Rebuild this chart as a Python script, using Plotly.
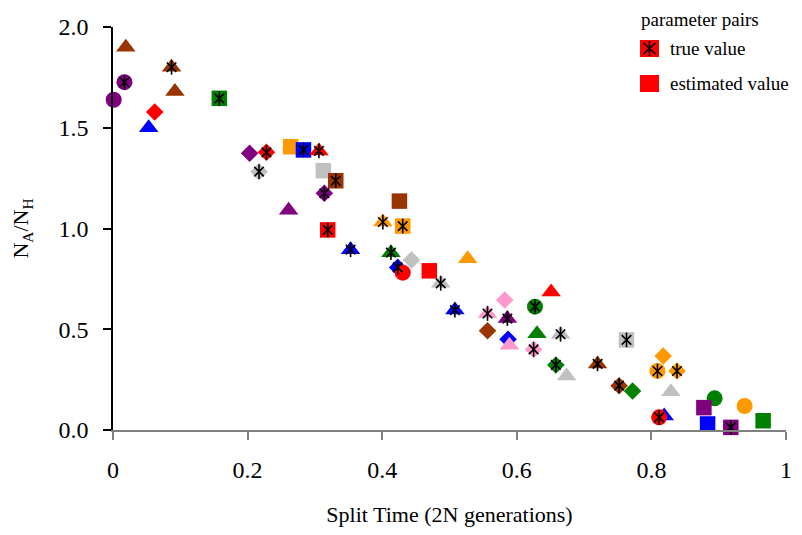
import plotly.graph_objects as go

# ---- data ----
palette = {
    "purple": "#800080", "brown": "#993300", "red": "#FF0000", "blue": "#0000FF",
    "green": "#008000", "orange": "#FF9900", "grey": "#C0C0C0", "pink": "#FF99CC",
}
shapes_map = {"circle": "circle", "triangle": "triangle-up", "diamond": "diamond", "square": "square"}

# estimated values
est_time = [0.019, 0.092, 0.001, 0.062, 0.053, 0.203, 0.264, 0.3125, 0.261, 0.4256,
            0.4435, 0.47, 0.527, 0.582, 0.5565, 0.587, 0.589, 0.651, 0.63,
            0.674, 0.772, 0.8175, 0.829, 0.819, 0.894, 0.878, 0.8835, 0.9385, 0.966]
est_ratio = [1.90, 1.68, 1.639, 1.578, 1.50, 1.373, 1.406, 1.287, 1.09, 1.136,
             0.844, 0.79, 0.85, 0.645, 0.493, 0.45, 0.42, 0.685, 0.478,
             0.268, 0.194, 0.367, 0.19, 0.07, 0.157, 0.111, 0.03, 0.119, 0.046]
est_colour = ["brown", "brown", "purple", "red", "blue", "purple", "orange", "grey", "purple", "brown",
              "grey", "red", "orange", "pink", "brown", "blue", "pink", "red", "green",
              "grey", "green", "orange", "grey", "blue", "green", "purple", "blue", "orange", "green"]
est_shape = ["triangle", "triangle", "circle", "diamond", "triangle", "diamond", "square", "square", "triangle", "square",
             "diamond", "square", "triangle", "diamond", "diamond", "diamond", "triangle", "triangle", "triangle",
             "triangle", "diamond", "diamond", "triangle", "triangle", "circle", "square", "square", "circle", "square"]

# true values
true_time = [0.087, 0.017, 0.158, 0.228, 0.283, 0.306, 0.217, 0.331, 0.314, 0.319,
             0.353, 0.401, 0.4305, 0.413, 0.423, 0.487, 0.508, 0.5565, 0.586, 0.625,
             0.627, 0.665, 0.658, 0.720, 0.763, 0.752, 0.809, 0.838, 0.8115, 0.918]
true_ratio = [1.80, 1.726, 1.646, 1.378, 1.39, 1.385, 1.282, 1.237, 1.175, 0.993,
              0.895, 1.032, 1.012, 0.88, 0.807, 0.728, 0.595, 0.578, 0.553, 0.40,
              0.612, 0.475, 0.323, 0.328, 0.447, 0.22, 0.293, 0.293, 0.063, 0.013]
true_colour = ["brown", "purple", "green", "red", "blue", "red", "grey", "brown", "purple", "red",
               "blue", "orange", "orange", "green", "blue", "grey", "blue", "pink", "purple", "pink",
               "green", "grey", "green", "brown", "grey", "brown", "orange", "orange", "red", "purple"]
true_shape = ["triangle", "circle", "square", "diamond", "square", "triangle", "diamond", "square", "diamond", "square",
              "triangle", "triangle", "square", "triangle", "diamond", "triangle", "triangle", "triangle", "triangle", "diamond",
              "circle", "triangle", "diamond", "triangle", "square", "diamond", "circle", "diamond", "circle", "square"]

# one estimated point drawn on top of the true markers
late_time = [0.4305]
late_ratio = [0.781]
late_colour = ["red"]
late_shape = ["circle"]

size_map = {"circle": 16, "triangle": 17, "diamond": 13.5, "square": 15.5}

FONT = "Liberation Serif, Times New Roman, serif"

fig = go.Figure()


def fill_trace(xs, ys, cols, shps):
    return go.Scatter(
        x=xs, y=ys, mode="markers", cliponaxis=False, showlegend=False, hoverinfo="skip",
        marker=dict(color=[palette[c] for c in cols],
                    symbol=[shapes_map[s] for s in shps],
                    size=[size_map[s] for s in shps],
                    opacity=1,
                    line=dict(width=0)),
    )


fig.add_trace(fill_trace(est_time, est_ratio, est_colour, est_shape))
fig.add_trace(fill_trace(true_time, true_ratio, true_colour, true_shape))
fig.add_trace(fill_trace(late_time, late_ratio, late_colour, late_shape))

# asterisk overlay on true values (vertical stroke + X)
for sym, sz in (("x-thin-open", 9.5), ("line-ns-open", 10.5)):
    fig.add_trace(go.Scatter(
        x=true_time, y=true_ratio, mode="markers", cliponaxis=False, showlegend=False,
        hoverinfo="skip",
        marker=dict(symbol=sym, size=sz, color="black", opacity=1,
                    line=dict(color="black", width=1.6)),
    ))

# ---- geometry (page pixels; page has an 8px body margin) ----
OFF = 8
L, T, W, H = 113, 27, 673, 403
FIG_W, FIG_H = 794, 519


def px(xp):
    return (xp - L) / W


def py(yp):
    return (T + H - yp) / H


shapes = [
    dict(type="rect", xref="paper", yref="paper", x0=px(640), x1=px(659), y0=py(57), y1=py(40),
         fillcolor="#FF0000", line=dict(width=0)),
    dict(type="rect", xref="paper", yref="paper", x0=px(640), x1=px(659), y0=py(92), y1=py(75),
         fillcolor="#FF0000", line=dict(width=0)),
    dict(type="line", xref="paper", yref="paper", x0=px(649.5), x1=px(649.5), y0=py(41), y1=py(56),
         line=dict(color="black", width=1.6)),
    dict(type="line", xref="paper", yref="paper", x0=px(643.5), x1=px(655.5), y0=py(43), y1=py(54),
         line=dict(color="black", width=1.6)),
    dict(type="line", xref="paper", yref="paper", x0=px(643.5), x1=px(655.5), y0=py(54), y1=py(43),
         line=dict(color="black", width=1.6)),
]

LEG_FONT = dict(size=19, family=FONT, color="black")
annotations = [
    dict(text="parameter pairs", x=px(639), y=py(19.5), xref="paper", yref="paper",
         xanchor="left", yanchor="middle", showarrow=False, font=LEG_FONT),
    dict(text="true value", x=px(668), y=py(49), xref="paper", yref="paper",
         xanchor="left", yanchor="middle", showarrow=False, font=LEG_FONT),
    dict(text="estimated value", x=px(668), y=py(83), xref="paper", yref="paper",
         xanchor="left", yanchor="middle", showarrow=False, font=LEG_FONT),
]

fig.update_layout(
    width=FIG_W, height=FIG_H,
    margin=dict(l=L - OFF, r=FIG_W - (L + W - OFF), t=T - OFF, b=FIG_H - (T + H - OFF), pad=0),
    plot_bgcolor="white", paper_bgcolor="white",
    font=dict(family=FONT, color="black", size=22),
    shapes=shapes, annotations=annotations, showlegend=False,
    xaxis=dict(
        range=[0, 1], tick0=0, dtick=0.2, showgrid=False, zeroline=False,
        showline=True, linecolor="#808080", linewidth=1.5,
        ticks="outside", ticklen=8, tickwidth=1.5, tickcolor="#808080",
        tickfont=dict(size=24, family=FONT), ticklabelstandoff=9,
        title=dict(text="Split Time (2N generations)", font=dict(size=22, family=FONT), standoff=25),
        automargin=False,
    ),
    yaxis=dict(
        range=[0, 2], tick0=0, dtick=0.5, tickformat=".1f", showgrid=False, zeroline=False,
        showline=True, linecolor="black", linewidth=1.5,
        ticks="outside", ticklen=8, tickwidth=1.5, tickcolor="black",
        tickfont=dict(size=24, family=FONT), ticklabelstandoff=10,
        title=dict(text="N<sub>A</sub>/N<sub>H</sub>", font=dict(size=22, family=FONT), standoff=30),
        automargin=False,
    ),
)

fig.write_html("out.html")
